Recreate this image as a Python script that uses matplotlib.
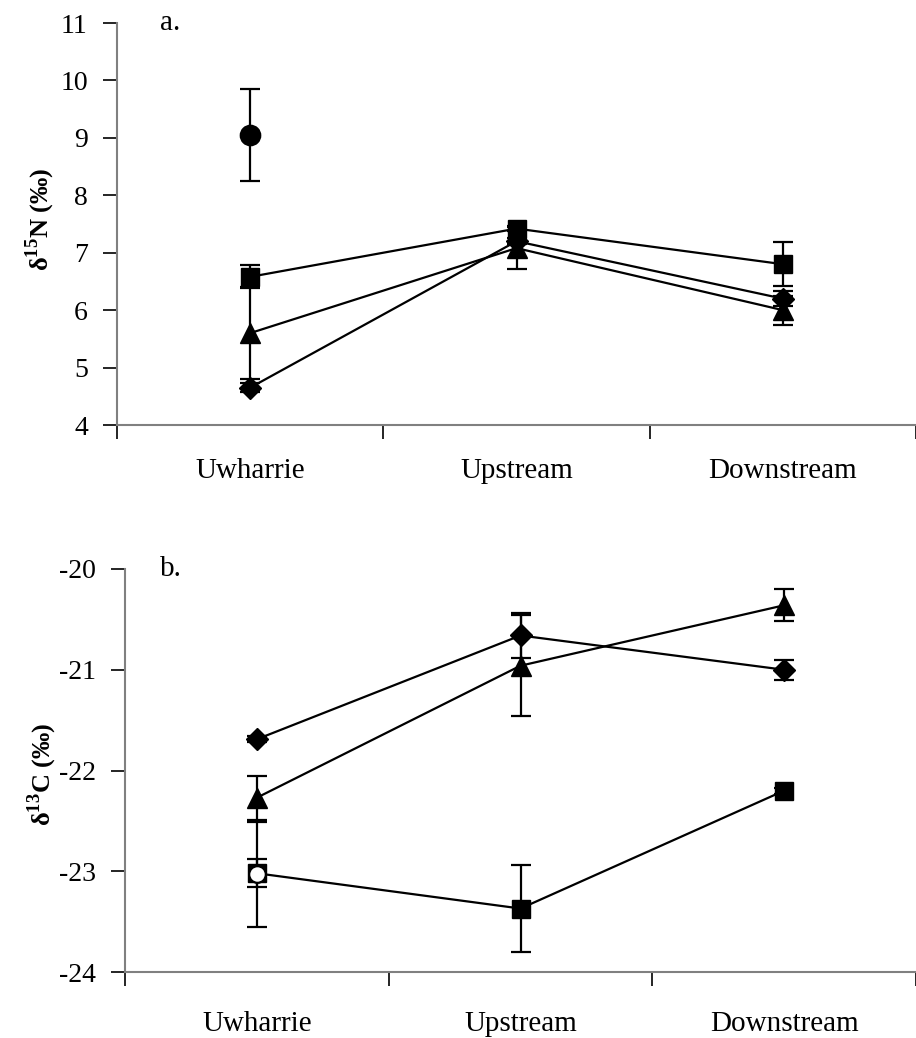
import matplotlib
matplotlib.use("Agg")
import matplotlib.pyplot as plt
import numpy as np

plt.rcParams['font.family'] = ['Liberation Serif', 'DejaVu Serif']
plt.rcParams['mathtext.fontset'] = 'custom'
plt.rcParams['mathtext.rm'] = 'Liberation Serif'
plt.rcParams['mathtext.bf'] = 'Liberation Serif:bold'
plt.rcParams['axes.unicode_minus'] = False

sites = ['Uwharrie', 'Upstream', 'Downstream']

# Panel a: delta 15N
a_square = [6.58, 7.42, 6.80]
a_square_err = [0.20, 0.05, 0.38]
a_triangle = [5.60, 7.08, 6.00]
a_triangle_err = [0.80, 0.36, 0.25]
a_diamond = [4.65, 7.20, 6.20]
a_diamond_err = [0.08, 0.05, 0.13]
a_circle = [9.05]
a_circle_err = [0.80]

# Panel b: delta 13C
b_square = [-23.02, -23.37, -22.20]
b_square_err = [0.14, 0.43, 0.03]
b_triangle = [-22.27, -20.96, -20.36]
b_triangle_err = [0.22, 0.50, 0.16]
b_diamond = [-21.69, -20.66, -21.00]
b_diamond_err = [0.03, 0.22, 0.10]
b_circle = [-23.03]
b_circle_err = [0.52]

W, H = 916, 1038
fig = plt.figure(figsize=(W / 100, H / 100), dpi=100)

def make_axes(left_px, right_px, top_px, bottom_px, spacing_px):
    ax = fig.add_axes([left_px / W, 1 - bottom_px / H, (right_px - left_px) / W,
                       (bottom_px - top_px) / H])
    ax.set_xlim(0, (right_px - left_px) / spacing_px)
    return ax

ax_a = make_axes(117, 916, 23, 425, 268)
ax_b = make_axes(125, 916, 569, 972, 266)

xpos = np.arange(len(sites)) + 0.5
ekw = dict(ecolor='black', elinewidth=1.6, capsize=7, capthick=1.6)

def draw(ax, sq, sqe, tr, tre, di, die, ci, cie, circle_face, circle_ms):
    ax.errorbar(xpos, sq, yerr=sqe, color='black', marker='s', ms=13, lw=1.6,
                mfc='black', mec='black', zorder=3, **ekw)
    ax.errorbar(xpos, tr, yerr=tre, color='black', marker='^', ms=15, lw=1.6,
                mfc='black', mec='black', zorder=3, **ekw)
    ax.errorbar(xpos, di, yerr=die, color='black', marker='D', ms=11.5, lw=1.6,
                mfc='black', mec='black', zorder=3, **ekw)
    ax.errorbar(xpos[:1], ci, yerr=cie, color='black', marker='o', ms=circle_ms,
                lw=0, mfc=circle_face, mec='black', mew=1.6, zorder=4, **ekw)

draw(ax_a, a_square, a_square_err, a_triangle, a_triangle_err,
     a_diamond, a_diamond_err, a_circle, a_circle_err, 'black', 14)
draw(ax_b, b_square, b_square_err, b_triangle, b_triangle_err,
     b_diamond, b_diamond_err, b_circle, b_circle_err, 'white', 12)

ax_a.set_ylim(4, 11)
ax_a.set_yticks(np.arange(4, 12, 1))
ax_b.set_ylim(-24, -20)
ax_b.set_yticks(np.arange(-24, -19, 1))

for ax in (ax_a, ax_b):
    for s in ('top', 'right'):
        ax.spines[s].set_visible(False)
    for s in ('left', 'bottom'):
        ax.spines[s].set_color('#808080')
        ax.spines[s].set_linewidth(1.5)
    ax.set_xticks([0, 1, 2, 3])
    ax.set_xticklabels([])
    ax.set_xticks(xpos, minor=True)
    ax.set_xticklabels(sites, minor=True)
    ax.tick_params(axis='x', which='major', direction='out', length=10, width=1.2,
                   color='black')
    ax.tick_params(axis='x', which='minor', length=0, labelsize=21)
    ax.tick_params(axis='y', direction='out', length=10, width=1.2, color='black',
                   pad=11, labelsize=20)

ax_a.tick_params(axis='x', which='minor', pad=24)
ax_b.tick_params(axis='x', which='minor', pad=28)

ax_a.set_ylabel('δ$^{\\mathbf{15}}$N (‰)', fontsize=19, fontweight='bold')
ax_b.set_ylabel('δ$^{\\mathbf{13}}$C (‰)', fontsize=19, fontweight='bold')
ax_a.yaxis.set_label_coords(-0.075, 0.512)
ax_b.yaxis.set_label_coords(-0.084, 0.49)

ax_a.text(0.054, 1.0, 'a.', transform=ax_a.transAxes, fontsize=21, va='center')
ax_b.text(0.044, 1.0, 'b.', transform=ax_b.transAxes, fontsize=21, va='center')

fig.savefig('out.png', dpi=100)
